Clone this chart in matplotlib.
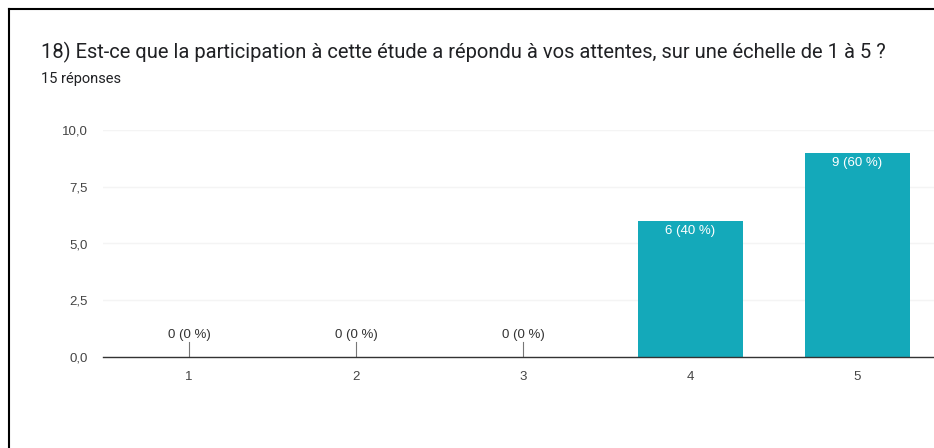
import matplotlib
matplotlib.use("Agg")
import matplotlib.pyplot as plt
from matplotlib.lines import Line2D

categories = ["1", "2", "3", "4", "5"]
counts = [0, 0, 0, 6, 9]
percents = [0, 0, 0, 40, 60]
yticks = [0.0, 2.5, 5.0, 7.5, 10.0]
ytick_labels = ["0,0", "2,5", "5,0", "7,5", "10,0"]
title = "18) Est-ce que la participation à cette étude a répondu à vos attentes, sur une échelle de 1 à 5 ?"
subtitle = "15 réponses"

plt.rcParams['font.family'] = ['Roboto', 'DejaVu Sans']
arial = ['Liberation Sans', 'DejaVu Sans']

fig = plt.figure(figsize=(9.34, 4.48), dpi=100)
fig.patch.set_facecolor("white")

ax = fig.add_axes([103/934, 91/448, 1 - 103/934, (357-130)/448])
x = list(range(1, len(categories) + 1))
bar_color = "#14a9ba"
ax.bar(x, counts, width=0.63, color=bar_color, zorder=3)

for xi, c, p in zip(x, counts, percents):
    lab = f"{c} ({p} %)"
    if c > 0:
        ax.annotate(lab, (xi, c), xytext=(0, -3), textcoords="offset points",
                    ha="center", va="top", color="white", fontsize=9.5, family=arial)
    else:
        ax.plot([xi, xi], [0, 0.65], color="#777777", lw=0.8, zorder=4)
        ax.annotate(lab, (xi, 0.65), xytext=(0, 1), textcoords="offset points",
                    ha="center", va="bottom", color="#333333", fontsize=9.5, family=arial)

ax.set_xlim(0.485, 5.46)
ax.set_ylim(0, 10)
ax.set_xticks(x)
ax.set_xticklabels(categories, family=arial)
ax.set_yticks(yticks)
ax.set_yticklabels(ytick_labels, family=arial)
ax.tick_params(axis="both", length=0, colors="#444444", labelsize=9.5)
ax.tick_params(axis="x", pad=10)
ax.tick_params(axis="y", pad=11)
ax.grid(axis="y", color="#f4f4f4", lw=1, zorder=0)
for s in ["top", "right", "left"]:
    ax.spines[s].set_visible(False)
ax.spines["bottom"].set_color("#333333")
ax.spines["bottom"].set_linewidth(1.0)
ax.spines["bottom"].set_zorder(5)

fig.text(41/934, 1 - 58/448, title, fontsize=14.5, color="#202124", ha="left", va="baseline")
fig.text(41/934, 1 - 83/448, subtitle, fontsize=10.5, color="#202124", ha="left", va="baseline")

# frame border (top and left)
fig.add_artist(Line2D([9/934, 1.0], [1 - 9/448, 1 - 9/448], transform=fig.transFigure, color="black", lw=1.5))
fig.add_artist(Line2D([9/934, 9/934], [0, 1 - 9/448], transform=fig.transFigure, color="black", lw=1.5))

fig.savefig("out.png", dpi=100)
